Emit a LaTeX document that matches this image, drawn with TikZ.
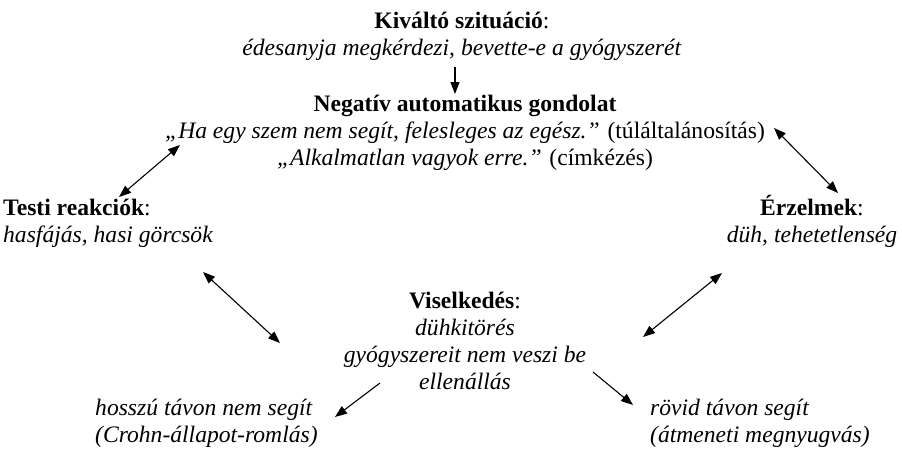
\documentclass[tikz,border=0pt]{standalone}
\usepackage{fontspec}
\setmainfont{Liberation Serif}
\usetikzlibrary{arrows.meta}
\begin{document}
\begin{tikzpicture}[x=1pt,y=-1pt,
  txt/.style={inner sep=0pt, font=\fontsize{23.6}{27}\selectfont, anchor=base},
  arr/.style={line width=1.1pt, -{Triangle[length=12pt,width=9pt]}},
  darr/.style={line width=1.1pt, {Triangle[length=12pt,width=9pt]}-{Triangle[length=12pt,width=9pt]}}]
\useasboundingbox[fill=white] (0,0) rectangle (902,450);
% blocks (anchor = baseline of the last line)
\node[txt, align=center] (trig) at (462,55) {\textbf{Kiváltó szituáció}:\\ \textit{édesanyja megkérdezi, bevette-e a gyógyszerét}};
\node[txt, align=center] (nat) at (465,165) {\textbf{Negatív automatikus gondolat}\\ \textit{„Ha egy szem nem segít, felesleges az egész.”} (túláltalánosítás)\\ \textit{„Alkalmatlan vagyok erre.”} (címkézés)};
\node[txt, align=left, anchor=base west] (testi) at (3,242) {\textbf{Testi reakciók}:\\ \textit{hasfájás, hasi görcsök}};
\node[txt, align=center] (erz) at (812,242) {\textbf{Érzelmek}:\\ \textit{düh, tehetetlenség}};
\node[txt, align=center] (visel) at (465,389) {\textbf{Viselkedés}:\\ \textit{dühkitörés}\\ \textit{gyógyszereit nem veszi be}\\ \textit{ellenállás}};
\node[txt, align=left, anchor=base west] (hosszu) at (95,442) {\textit{hosszú távon nem segít}\\ \textit{(Crohn-állapot-romlás)}};
\node[txt, align=left, anchor=base west] (rovid) at (650,442) {\textit{rövid távon segít}\\ \textit{(átmeneti megnyugvás)}};
% connector end points
\coordinate (trigOut) at (455,67);
\coordinate (natIn) at (455,94);
\coordinate (natL) at (180,145);
\coordinate (testiT) at (119,197);
\coordinate (natR) at (774,128);
\coordinate (erzT) at (838,193);
\coordinate (testiB) at (203,272);
\coordinate (viselL) at (280,343);
\coordinate (erzB) at (722,273);
\coordinate (viselR) at (643,337);
\coordinate (viselBL) at (380,383);
\coordinate (hosszuT) at (335,417);
\coordinate (viselBR) at (593,372);
\coordinate (rovidT) at (633,405);
% connectors
\draw[arr] (trigOut) -- (natIn);
\draw[darr] (natL) -- (testiT);
\draw[darr] (natR) -- (erzT);
\draw[darr] (testiB) -- (viselL);
\draw[darr] (erzB) -- (viselR);
\draw[arr] (viselBL) -- (hosszuT);
\draw[arr] (viselBR) -- (rovidT);
\end{tikzpicture}
\end{document}
